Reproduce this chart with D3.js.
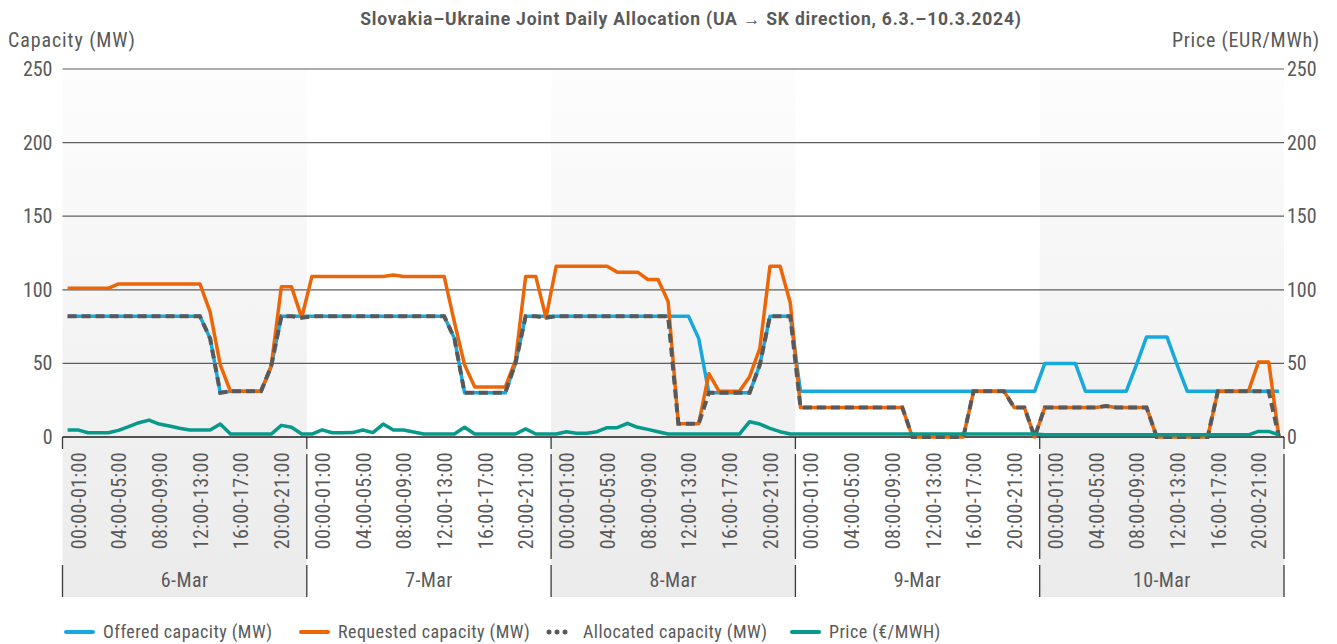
<!DOCTYPE html>
<html>
<head>
<meta charset="utf-8">
<script src="https://cdn.jsdelivr.net/npm/d3@7"></script>
<style>
  body { margin: 0; background: #fff; }
  svg text { font-family: Roboto, "Noto Sans", sans-serif; font-stretch: 85%; fill: #595959; }
</style>
</head>
<body>
<div id="chart"></div>
<script>
const days = ["6-Mar", "7-Mar", "8-Mar", "9-Mar", "10-Mar"];
const hourTicks = [0, 4, 8, 12, 16, 20];
const hourTickLabels = ["00:00-01:00", "04:00-05:00", "08:00-09:00", "12:00-13:00", "16:00-17:00", "20:00-21:00"];
const yTicks = [0, 50, 100, 150, 200, 250];

// hourly values, one row per day
const offered = [
  82,82,82,82,82,82,82,82,82,82,82,82,82,82,67,30,31,31,31,31,48,82,82,82,
  82,82,82,82,82,82,82,82,82,82,82,82,82,82,67,30,30,30,30,30,50,82,82,82,
  82,82,82,82,82,82,82,82,82,82,82,82,82,82,67,30,30,30,30,30,49,82,82,82,
  31,31,31,31,31,31,31,31,31,31,31,31,31,31,31,31,31,31,31,31,31,31,31,31,
  50,50,50,50,31,31,31,31,31,49,68,68,68,49,31,31,31,31,31,31,31,31,31,31
];
const requested = [
  101,101,101,101,101,104,104,104,104,104,104,104,104,104,85,49,31,31,31,31,48,102,102,81,
  109,109,109,109,109,109,109,109,110,109,109,109,109,109,78,49,34,34,34,34,52,109,109,81,
  116,116,116,116,116,116,112,112,112,107,107,92,9,9,9,43,31,31,31,41,60,116,116,91,
  20,20,20,20,20,20,20,20,20,20,20,0,0,0,0,0,0,31,31,31,31,20,20,0,
  20,20,20,20,20,20,21,20,20,20,20,0,0,0,0,0,0,31,31,31,31,51,51,0
];
const allocated = [
  82,82,82,82,82,82,82,82,82,82,82,82,82,82,67,30,31,31,31,31,48,82,82,81,
  82,82,82,82,82,82,82,82,82,82,82,82,82,82,67,30,30,30,30,30,50,82,82,81,
  82,82,82,82,82,82,82,82,82,82,82,82,9,9,9,30,30,30,30,30,49,82,82,82,
  20,20,20,20,20,20,20,20,20,20,20,0,0,0,0,0,0,31,31,31,31,20,20,0,
  20,20,20,20,20,20,21,20,20,20,20,0,0,0,0,0,0,31,31,31,31,31,31,0
];
const price = [
  4.8,4.8,2.9,2.9,2.9,4.5,7,9.7,11.5,8.8,7.5,6,4.8,4.8,4.8,8.8,2,2,2,2,2,7.9,6.6,2,
  2,4.8,2.9,2.9,3,4.8,3,8.8,4.8,4.8,3.4,2,2,2,2,6.6,2,2,2,2,2,5.5,2,2,
  2,3.6,2.6,2.6,3.6,6.3,6.3,9.3,6.6,5.2,3.6,2,2,2,2,2,2,2,2,10.4,8.8,5.9,3.6,2,
  2,2,2,2,2,2,2,2,2,2,2,2,2,2,2,2,2,2,2,2,2,2,2,2,
  1.5,1.5,1.5,1.5,1.5,1.5,1.5,1.5,1.5,1.5,1.5,1.5,1.5,1.5,1.5,1.5,1.5,1.5,1.5,1.5,1.5,3.8,3.8,1.5
];

const seriesNames = ["Offered capacity (MW)", "Requested capacity (MW)", "Allocated capacity (MW)", "Price (\u20AC/MWH)"];
const colors = ["#17a9dd", "#ec6608", "#595959", "#07998a"];

var W = 1337, H = 644;
var plotL = 62.5, plotR = 1284, plotT = 69, plotB = 437, labelB = 597;

var svg = d3.select("#chart").append("svg").attr("width", W).attr("height", H);

var x = d3.scalePoint().domain(d3.range(offered.length)).range([plotL, plotR]).padding(0.5);
var xDay = d3.scaleBand().domain(days).range([plotL, plotR]);
var y = d3.scaleLinear().domain([0, 250]).range([plotB, plotT]);
var yRight = d3.scaleLinear().domain([0, 250]).range([plotB, plotT]);

// shaded day bands
var grad = svg.append("defs").append("linearGradient").attr("id", "shade")
  .attr("x1", 0).attr("y1", 0).attr("x2", 0).attr("y2", 1);
grad.append("stop").attr("offset", 0).attr("stop-color", "#fdfdfd");
grad.append("stop").attr("offset", 0.7).attr("stop-color", "#f0f0f0");
grad.append("stop").attr("offset", 1).attr("stop-color", "#ebebeb");

svg.append("g").selectAll("rect")
  .data(days.filter(function(d, i) { return i % 2 == 0; }))
  .enter().append("rect")
  .attr("x", function(d) { return xDay(d); })
  .attr("y", plotT)
  .attr("width", xDay.bandwidth())
  .attr("height", labelB - plotT)
  .attr("fill", "url(#shade)");

// gridlines
svg.append("g").selectAll("line")
  .data(yTicks.filter(function(d) { return d > 0; }))
  .enter().append("line")
  .attr("x1", plotL).attr("x2", plotR)
  .attr("y1", function(d) { return y(d); }).attr("y2", function(d) { return y(d); })
  .attr("stroke", "#5e5e5e").attr("stroke-width", 1.2);

// left and right axes
var gl = svg.append("g").attr("transform", "translate(" + plotL + ",0)")
  .call(d3.axisLeft(y).tickValues(yTicks).tickSize(0).tickPadding(10));
gl.select(".domain").remove();
gl.selectAll("text").style("font-size", "20px").attr("fill", "#595959").attr("font-family", null);

var gr = svg.append("g").attr("transform", "translate(" + plotR + ",0)")
  .call(d3.axisRight(yRight).tickValues(yTicks).tickSize(0).tickPadding(3));
gr.select(".domain").remove();
gr.selectAll("text").style("font-size", "20px").attr("fill", "#595959").attr("font-family", null);

// day separators in the label area (broken like the original)
var bounds = days.map(function(d) { return xDay(d); }).concat([plotR]);
var segs = [];
bounds.forEach(function(b, i) {
  segs.push([b, plotB, 449]);
  if (i > 0) segs.push([b, 454, 559]);
  segs.push([b, 565, labelB]);
});
svg.append("g").selectAll("line").data(segs).enter().append("line")
  .attr("x1", function(d) { return d[0]; }).attr("x2", function(d) { return d[0]; })
  .attr("y1", function(d) { return d[1]; }).attr("y2", function(d) { return d[2]; })
  .attr("stroke", "#3a3a3a").attr("stroke-width", 1.3);

// hour labels
days.forEach(function(day, di) {
  svg.append("g").selectAll("text").data(hourTicks).enter().append("text")
    .attr("transform", function(h) {
      return "translate(" + (x(di * 24 + h) + 11) + ",452) rotate(-90)";
    })
    .attr("text-anchor", "end")
    .attr("dy", "0.35em")
    .style("font-size", "20px")
    .style("letter-spacing", "0.35px")
    .text(function(h, i) { return hourTickLabels[i]; });
});

svg.append("g").selectAll("text").data(days).enter().append("text")
  .attr("x", function(d) { return xDay(d) + xDay.bandwidth() / 2; })
  .attr("y", 587)
  .attr("text-anchor", "middle")
  .style("font-size", "20px")
  .style("letter-spacing", "0.4px")
  .text(function(d) { return d; });

// x axis line
svg.append("line").attr("x1", plotL).attr("x2", plotR).attr("y1", plotB).attr("y2", plotB)
  .attr("stroke", "#1e1e1e").attr("stroke-width", 1.5);

// series
var line = d3.line().x(function(d, i) { return x(i); }).y(function(d) { return y(d); });
var lineR = d3.line().x(function(d, i) { return x(i); }).y(function(d) { return yRight(d); });

svg.append("path").datum(offered).attr("d", line)
  .attr("fill", "none").attr("stroke", colors[0]).attr("stroke-width", 3.5).attr("stroke-linejoin", "round");
svg.append("path").datum(requested).attr("d", line)
  .attr("fill", "none").attr("stroke", colors[1]).attr("stroke-width", 3.5).attr("stroke-linejoin", "round");
svg.append("path").datum(allocated).attr("d", line)
  .attr("fill", "none").attr("stroke", colors[2]).attr("stroke-width", 4)
  .attr("stroke-dasharray", "9,5");
svg.append("path").datum(price).attr("d", lineR)
  .attr("fill", "none").attr("stroke", colors[3]).attr("stroke-width", 3.5).attr("stroke-linejoin", "round");

// titles
svg.append("text").attr("x", 691).attr("y", 25).attr("text-anchor", "middle")
  .style("font-size", "17.5px").style("font-weight", "bold").style("font-stretch", "100%")
  .style("letter-spacing", "0.8px").attr("fill", "#444")
  .text("Slovakia\u2013Ukraine Joint Daily Allocation (UA \u2192 SK direction, 6.3.\u201310.3.2024)");
svg.append("text").attr("x", 8).attr("y", 47).style("font-size", "20px").style("letter-spacing", "0.9px").text("Capacity (MW)");
svg.append("text").attr("x", 1320).attr("y", 47).attr("text-anchor", "end").style("font-size", "20px").style("letter-spacing", "0.75px").text("Price (EUR/MWh)");

// legend
var legendX = [66, 301, 546, 792];
var lg = svg.append("g").selectAll("g").data(seriesNames).enter().append("g")
  .attr("transform", function(d, i) { return "translate(" + legendX[i] + ",632)"; });
lg.append("line")
  .attr("x1", function(d, i) { return i == 2 ? 3 : 0; })
  .attr("x2", function(d, i) { return i == 2 ? 19.5 : 27; })
  .attr("y1", 0).attr("y2", 0)
  .attr("stroke", function(d, i) { return colors[i]; })
  .attr("stroke-width", function(d, i) { return i == 2 ? 5 : 4; })
  .attr("stroke-dasharray", function(d, i) { return i == 2 ? "0,8" : null; })
  .attr("stroke-linecap", "round");
lg.append("text").attr("x", 37).attr("dy", "0.35em")
  .style("font-size", "18px").style("letter-spacing", "0.45px")
  .text(function(d) { return d; });
</script>
</body>
</html>
